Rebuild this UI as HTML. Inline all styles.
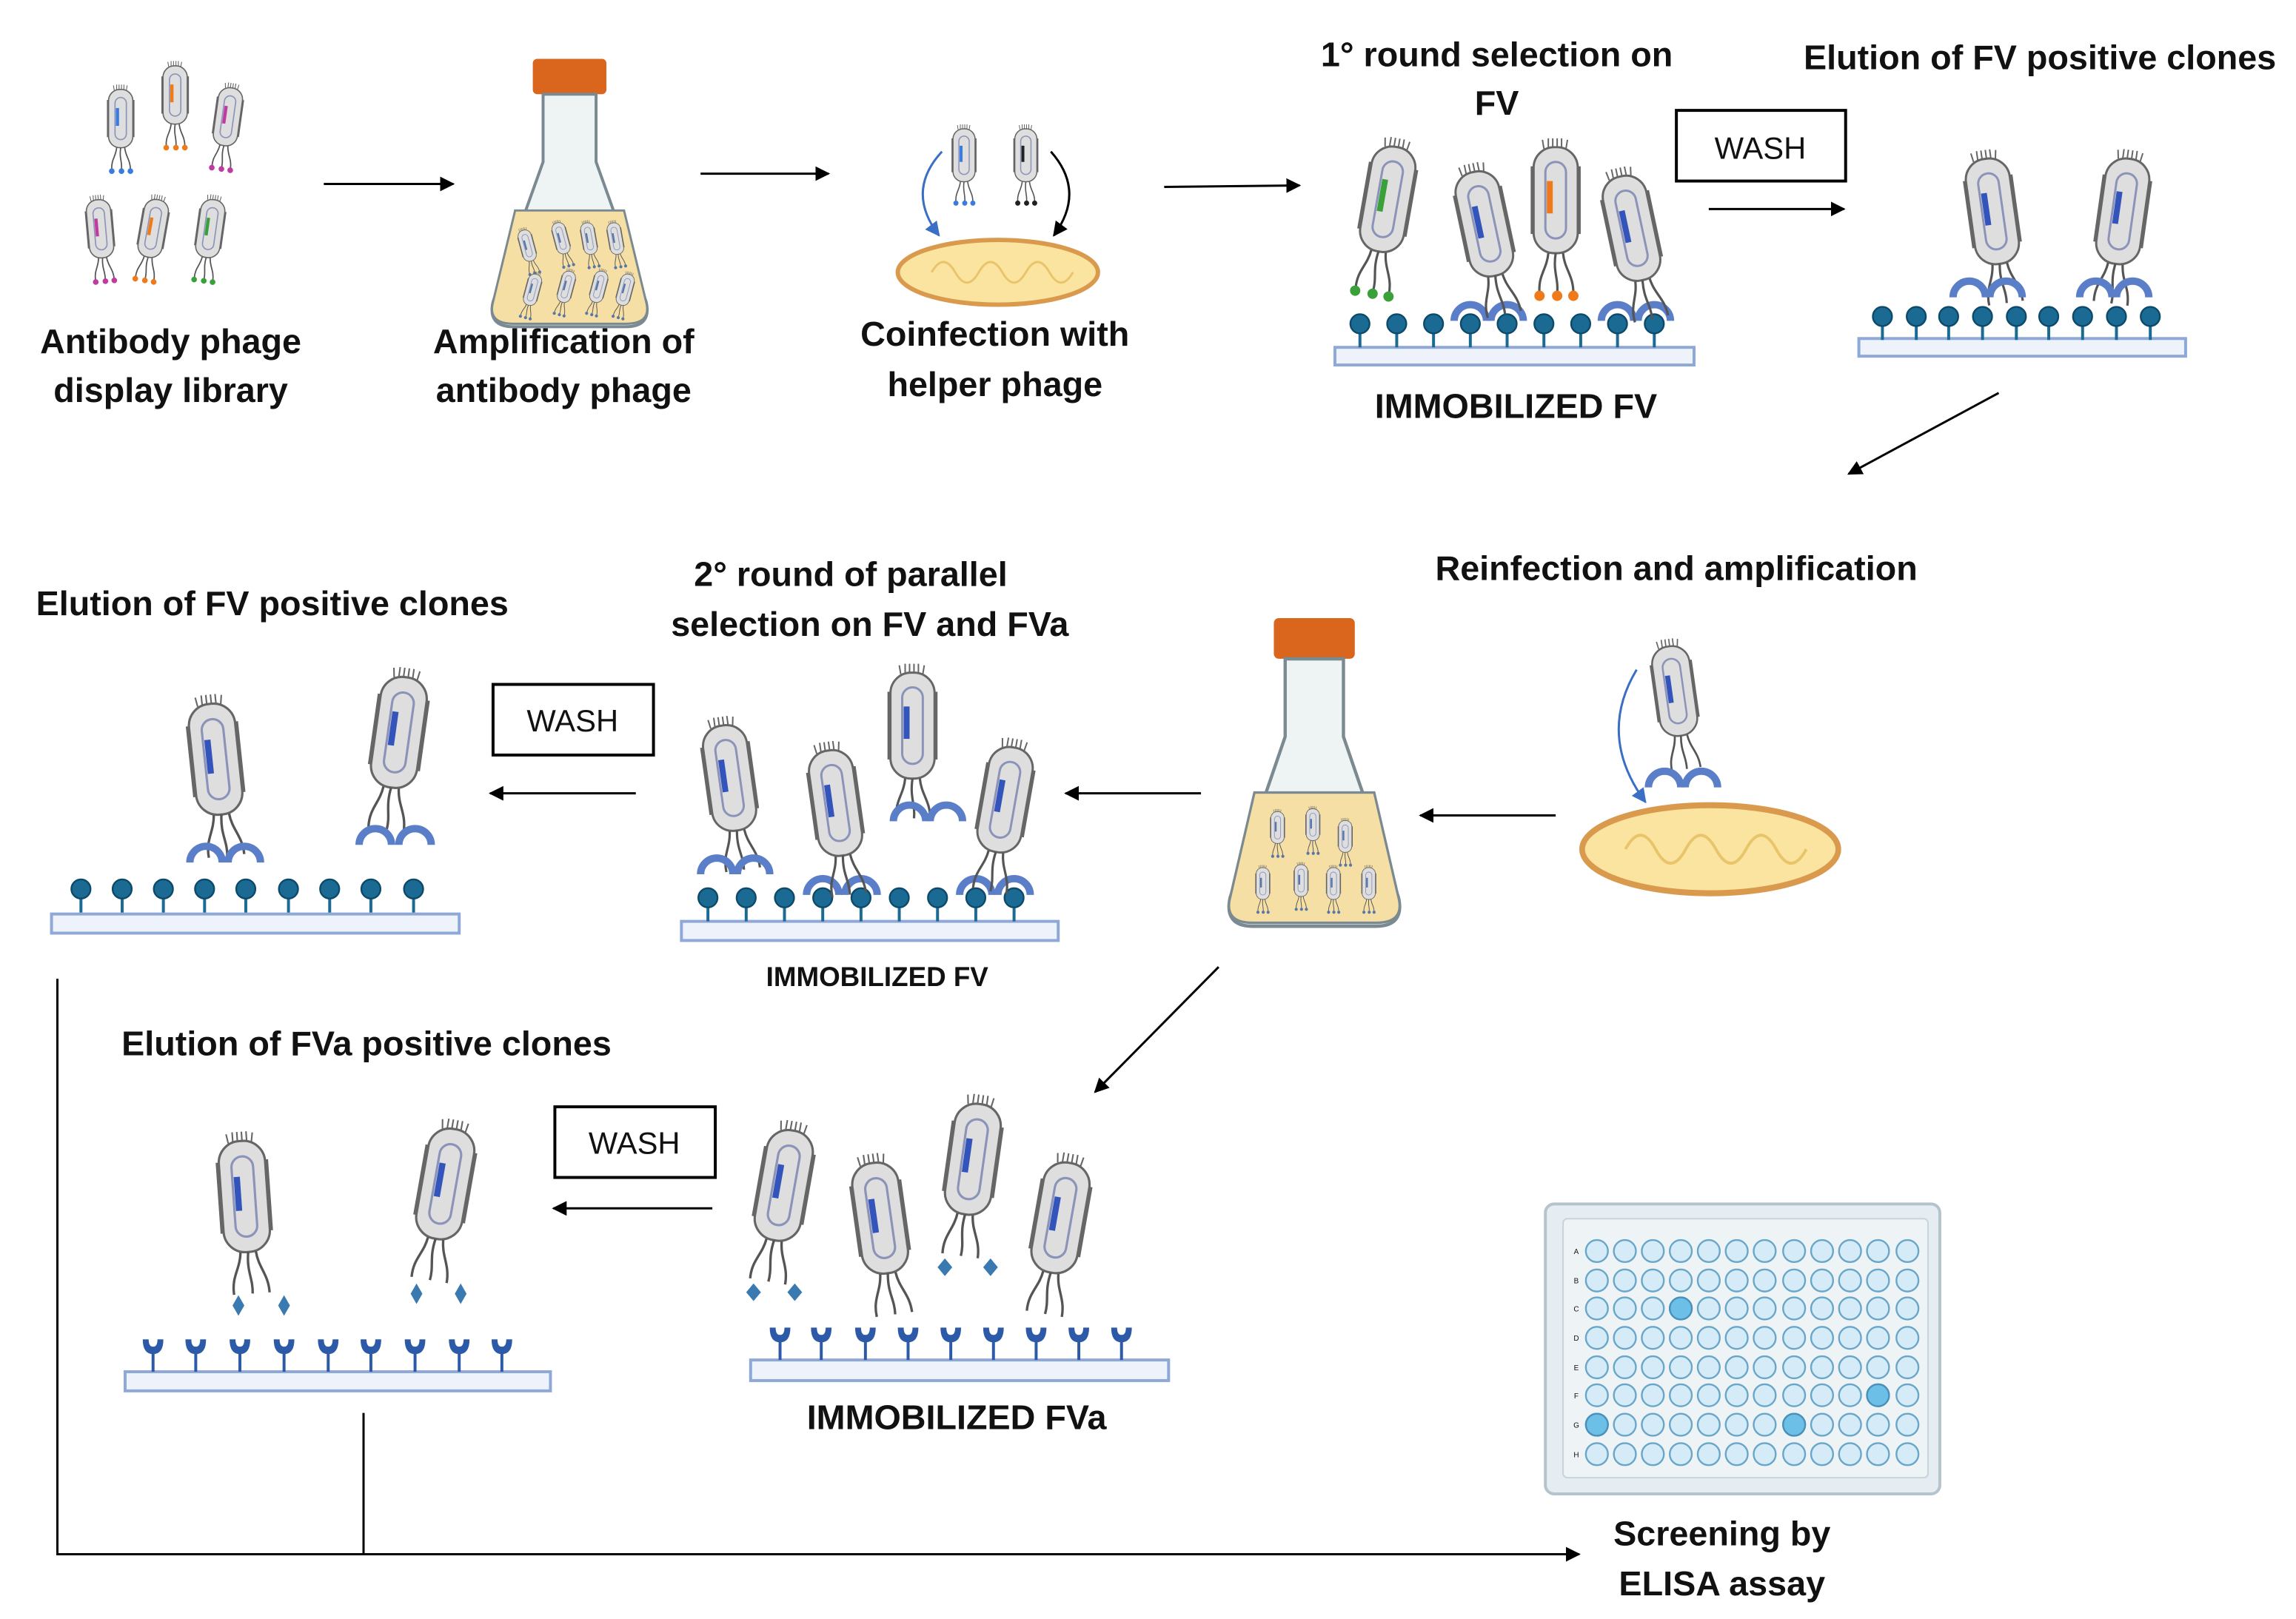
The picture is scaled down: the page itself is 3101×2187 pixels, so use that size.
<!DOCTYPE html>
<html><head><meta charset="utf-8"><style>html,body{margin:0;padding:0;background:#fff}svg{display:block}text{font-family:"Liberation Sans",Arial,sans-serif;font-weight:bold;fill:#111;text-anchor:middle}</style></head><body>
<svg width="3101" height="2187" viewBox="0 0 1560 1100" preserveAspectRatio="none" xmlns="http://www.w3.org/2000/svg">
<defs>
<marker id="ar" markerWidth="10" markerHeight="10" refX="9" refY="5" orient="auto" markerUnits="userSpaceOnUse"><path d="M0,0 L10,5 L0,10 z" fill="#000"/></marker>
<marker id="ab" markerWidth="10" markerHeight="10" refX="9" refY="5" orient="auto" markerUnits="userSpaceOnUse"><path d="M0,0 L10,5 L0,10 z" fill="#3a6fc4"/></marker>
<g id="ph">
<path d="M-8,6 L-9,0 M-5,5 L-5,-1 M-2,5 L-2,-1 M1,5 L1,-1 M4,5 L4,-1 M7,6 L8,0" stroke="#666" stroke-width="1"/>
<rect x="-17" y="18" width="3" height="46" fill="#666"/><rect x="14" y="18" width="3" height="46" fill="#666"/>
<rect x="-15" y="5" width="30" height="72" rx="14" fill="#dedede" stroke="#666" stroke-width="1.5"/>
<rect x="-7" y="15" width="14" height="52" rx="7" fill="none" stroke="#8b93b8" stroke-width="1.5"/>
<rect x="-6" y="28" width="4" height="22" fill="currentColor"/>
<path d="M-5,77 C-6,88 -12,92 -11,104 M0,77 C-2,90 2,94 1,104 M5,77 C6,88 12,92 12,104" stroke="#555" stroke-width="1.6" fill="none"/>
</g>
<g id="phd"><use href="#ph"/><circle cx="-11" cy="106" r="3.5" fill="currentColor"/><circle cx="1" cy="106" r="3.5" fill="currentColor"/><circle cx="12" cy="106" r="3.5" fill="currentColor"/></g>
<g id="lp"><line x1="0" y1="0" x2="0" y2="16" stroke="#1a6a94" stroke-width="2"/><circle cx="0" cy="0" r="6.5" fill="#1a6a94" stroke="#0d4a6a" stroke-width="1.2"/></g>
<g id="bd"><path d="M-11,2 A11,11 0 0 1 11,2" fill="none" stroke="#5a7ec8" stroke-width="5"/></g>
<g id="ya"><line x1="0" y1="0" x2="0" y2="16" stroke="#2c5aa8" stroke-width="2"/><path d="M-7,-6 Q-7,4 0,4 Q7,4 7,-6 L3,-6 Q3,-1 0,-1 Q-3,-1 -3,-6 z" fill="#2c5aa8"/></g>
<g id="fl">
<rect x="-25" y="0" width="50" height="24" rx="3" fill="#d9661c"/>
<path d="M-18,24 L-18,70 L-52,165 Q-56,182 -38,182 L38,182 Q56,182 52,165 L18,70 L18,24 z" fill="#eef4f4" stroke="#7a8a90" stroke-width="2"/>
<path d="M-37,103 L37,103 L52,165 Q56,180 38,180 L-38,180 Q-56,180 -52,165 z" fill="#f6dfa4" stroke="#7a8a90" stroke-width="1.5"/>
</g>
<g id="bac"><ellipse cx="0" cy="0" rx="68" ry="22" fill="#fbe3a0" stroke="#d99a4e" stroke-width="3"/><path d="M-45,0 q8,-14 16,0 q8,14 16,0 q8,-14 16,0 q8,14 16,0 q8,-14 16,0 q8,14 16,0" fill="none" stroke="#e8c46a" stroke-width="1.5"/></g>
<g id="r"><circle cx="1085" cy="0" r="7.5"/><circle cx="1104" cy="0" r="7.5"/><circle cx="1123" cy="0" r="7.5"/><circle cx="1142" cy="0" r="7.5"/><circle cx="1161" cy="0" r="7.5"/><circle cx="1180" cy="0" r="7.5"/><circle cx="1199" cy="0" r="7.5"/><circle cx="1219" cy="0" r="7.5"/><circle cx="1238" cy="0" r="7.5"/><circle cx="1257" cy="0" r="7.5"/><circle cx="1276" cy="0" r="7.5"/><circle cx="1296" cy="0" r="7.5"/></g>
</defs>

<g font-size="23.5">
<text x="116" y="240">Antibody phage</text><text x="116" y="273">display library</text>
<text x="383" y="240">Amplification of</text><text x="383" y="273">antibody phage</text>
<text x="676" y="235">Coinfection with</text><text x="676" y="269">helper phage</text>
<text x="1017" y="45">1° round selection on</text><text x="1017" y="78">FV</text>
<text x="1386" y="47">Elution of FV positive clones</text>
<text x="1030" y="284">IMMOBILIZED FV</text>
<text x="1139" y="394">Reinfection and amplification</text>
<text x="578" y="398">2° round of parallel</text><text x="591" y="432">selection on FV and FVa</text>
<text x="185" y="418">Elution of FV positive clones</text>
<text x="249" y="717">Elution of FVa positive clones</text>
<text x="650" y="971">IMMOBILIZED FVa</text>
<text x="1170" y="1050">Screening by</text><text x="1170" y="1084">ELISA assay</text>
<text x="596" y="670" font-size="18.5">IMMOBILIZED FV</text>
</g>
<g fill="#fff" stroke="#000" stroke-width="2">
<rect x="1139" y="75" width="115" height="48"/><rect x="335" y="465" width="109" height="48"/><rect x="377" y="752" width="109" height="48"/>
</g>
<g font-size="21">
<text x="1196" y="108" style="font-weight:normal">WASH</text><text x="389" y="497" style="font-weight:normal">WASH</text><text x="431" y="784" style="font-weight:normal">WASH</text>
</g>

<g stroke="#000" stroke-width="1.5" fill="none" marker-end="url(#ar)">
<line x1="220" y1="125" x2="308" y2="125"/><line x1="476" y1="118" x2="563" y2="118"/><line x1="791" y1="127" x2="883" y2="126"/>
<line x1="1161" y1="142" x2="1253" y2="142"/><line x1="1358" y1="267" x2="1256" y2="322"/>
<line x1="1057" y1="554" x2="965" y2="554"/><line x1="816" y1="539" x2="724" y2="539"/><line x1="432" y1="539" x2="333" y2="539"/>
<line x1="828" y1="657" x2="744" y2="742"/><line x1="484" y1="821" x2="376" y2="821"/>
<polyline points="39,665 39,1056 1073,1056"/>
</g>
<line x1="247" y1="960" x2="247" y2="1056" stroke="#000" stroke-width="1.5"/>

<g transform="translate(82,58) scale(0.55)" color="#3a7be0"><use href="#phd"/></g>
<g transform="translate(119,42) scale(0.55)" color="#f07a1a"><use href="#phd"/></g>
<g transform="translate(158,57) scale(0.55) rotate(8)" color="#c03aa0"><use href="#phd"/></g>
<g transform="translate(66,133) scale(0.55) rotate(-5)" color="#c03aa0"><use href="#phd"/></g>
<g transform="translate(108,133) scale(0.55) rotate(10)" color="#f07a1a"><use href="#phd"/></g>
<g transform="translate(146,133) scale(0.55) rotate(8)" color="#3aa03a"><use href="#phd"/></g>

<use href="#fl" transform="translate(387,40)"/>
<g color="#5577aa">
<g transform="translate(355,155) scale(0.3) rotate(-15)"><use href="#phd"/></g>
<g transform="translate(378,150) scale(0.3) rotate(-15)"><use href="#phd"/></g>
<g transform="translate(398,150) scale(0.3) rotate(-10)"><use href="#phd"/></g>
<g transform="translate(416,150) scale(0.3) rotate(-10)"><use href="#phd"/></g>
<g transform="translate(365,185) scale(0.3) rotate(15)"><use href="#phd"/></g>
<g transform="translate(388,183) scale(0.3) rotate(15)"><use href="#phd"/></g>
<g transform="translate(410,183) scale(0.3) rotate(15)"><use href="#phd"/></g>
<g transform="translate(428,185) scale(0.3) rotate(15)"><use href="#phd"/></g>
</g>

<g transform="translate(655,85) scale(0.5)" color="#3a7be0"><use href="#phd"/></g>
<g transform="translate(697,85) scale(0.5)" color="#222"><use href="#phd"/></g>
<use href="#bac" transform="translate(678,185)"/>
<path d="M640,103 Q615,130 638,160" fill="none" stroke="#3a6fc4" stroke-width="1.5" marker-end="url(#ab)"/>
<path d="M714,103 Q738,130 716,160" fill="none" stroke="#000" stroke-width="1.5" marker-end="url(#ar)"/>

<rect x="907" y="236" width="244" height="12" fill="#eef3fb" stroke="#8ea8d8" stroke-width="2"/>
<g><use href="#lp" x="924" y="220"/><use href="#lp" x="949" y="220"/><use href="#lp" x="974" y="220"/><use href="#lp" x="999" y="220"/><use href="#lp" x="1024" y="220"/><use href="#lp" x="1049" y="220"/><use href="#lp" x="1074" y="220"/><use href="#lp" x="1099" y="220"/><use href="#lp" x="1124" y="220"/></g>
<use href="#bd" x="999" y="216"/><use href="#bd" x="1024" y="216"/><use href="#bd" x="1099" y="216"/><use href="#bd" x="1124" y="216"/>
<g transform="translate(950,95) rotate(10)" color="#3aa03a"><use href="#phd"/></g>
<g transform="translate(1000,112) rotate(-12)" color="#3355bb"><use href="#ph"/></g>
<g transform="translate(1057,95)" color="#f07a1a"><use href="#phd"/></g>
<g transform="translate(1100,115) rotate(-12)" color="#3355bb"><use href="#ph"/></g>

<rect x="1263" y="230" width="222" height="12" fill="#eef3fb" stroke="#8ea8d8" stroke-width="2"/>
<g><use href="#lp" x="1279" y="215"/><use href="#lp" x="1302" y="215"/><use href="#lp" x="1324" y="215"/><use href="#lp" x="1347" y="215"/><use href="#lp" x="1370" y="215"/><use href="#lp" x="1392" y="215"/><use href="#lp" x="1415" y="215"/><use href="#lp" x="1438" y="215"/><use href="#lp" x="1461" y="215"/></g>
<g transform="translate(1348,103) rotate(-8)" color="#3355bb"><use href="#ph"/></g>
<g transform="translate(1448,103) rotate(8)" color="#3355bb"><use href="#ph"/></g>
<use href="#bd" x="1338" y="200"/><use href="#bd" x="1363" y="200"/><use href="#bd" x="1424" y="200"/><use href="#bd" x="1449" y="200"/>

<g transform="translate(1133,435) rotate(-8) scale(0.85)" color="#3355bb"><use href="#ph"/></g>
<use href="#bd" x="1131" y="533"/><use href="#bd" x="1156" y="533"/>
<g transform="translate(1162,577) scale(1.28,1.36)"><use href="#bac"/></g>
<path d="M1112,455 Q1085,500 1118,545" fill="none" stroke="#3a6fc4" stroke-width="1.5" marker-end="url(#ab)"/>

<use href="#fl" transform="translate(893,420) scale(1.1,1.15)"/>
<g color="#5577aa">
<g transform="translate(868,550) scale(0.3)"><use href="#phd"/></g>
<g transform="translate(892,548) scale(0.3)"><use href="#phd"/></g>
<g transform="translate(914,556) scale(0.3)"><use href="#phd"/></g>
<g transform="translate(858,588) scale(0.3)"><use href="#phd"/></g>
<g transform="translate(884,586) scale(0.3)"><use href="#phd"/></g>
<g transform="translate(906,588) scale(0.3)"><use href="#phd"/></g>
<g transform="translate(930,588) scale(0.3)"><use href="#phd"/></g>
</g>

<rect x="463" y="626" width="256" height="13" fill="#eef3fb" stroke="#8ea8d8" stroke-width="2"/>
<g><use href="#lp" x="481" y="610"/><use href="#lp" x="507" y="610"/><use href="#lp" x="533" y="610"/><use href="#lp" x="559" y="610"/><use href="#lp" x="585" y="610"/><use href="#lp" x="611" y="610"/><use href="#lp" x="637" y="610"/><use href="#lp" x="663" y="610"/><use href="#lp" x="689" y="610"/></g>
<use href="#bd" x="559" y="606"/><use href="#bd" x="585" y="606"/><use href="#bd" x="663" y="606"/><use href="#bd" x="689" y="606"/>
<g transform="translate(490,488) rotate(-8)" color="#3355bb"><use href="#ph"/></g>
<use href="#bd" x="487" y="592"/><use href="#bd" x="512" y="592"/>
<g transform="translate(562,505) rotate(-8)" color="#3355bb"><use href="#ph"/></g>
<g transform="translate(620,452)" color="#3355bb"><use href="#ph"/></g>
<use href="#bd" x="618" y="556"/><use href="#bd" x="643" y="556"/>
<g transform="translate(690,503) rotate(10)" color="#3355bb"><use href="#ph"/></g>

<rect x="35" y="621" width="277" height="13" fill="#eef3fb" stroke="#8ea8d8" stroke-width="2"/>
<g><use href="#lp" x="55" y="604"/><use href="#lp" x="83" y="604"/><use href="#lp" x="111" y="604"/><use href="#lp" x="139" y="604"/><use href="#lp" x="167" y="604"/><use href="#lp" x="196" y="604"/><use href="#lp" x="224" y="604"/><use href="#lp" x="252" y="604"/><use href="#lp" x="281" y="604"/></g>
<g transform="translate(142,473) rotate(-6) scale(1.05)" color="#3355bb"><use href="#ph"/></g>
<use href="#bd" x="140" y="584"/><use href="#bd" x="166" y="584"/>
<g transform="translate(277,455) rotate(8) scale(1.05)" color="#3355bb"><use href="#ph"/></g>
<use href="#bd" x="255" y="572"/><use href="#bd" x="282" y="572"/>

<rect x="510" y="924" width="284" height="14" fill="#eef3fb" stroke="#8ea8d8" stroke-width="2"/>
<g><use href="#ya" x="530" y="908"/><use href="#ya" x="558" y="908"/><use href="#ya" x="588" y="908"/><use href="#ya" x="617" y="908"/><use href="#ya" x="646" y="908"/><use href="#ya" x="675" y="908"/><use href="#ya" x="704" y="908"/><use href="#ya" x="733" y="908"/><use href="#ya" x="762" y="908"/></g>
<g transform="translate(540,763) rotate(10) scale(1.05)" color="#3355bb"><use href="#ph"/></g>
<path d="M512,872 l5,6 -5,6 -5,-6z M540,872 l5,6 -5,6 -5,-6z M642,855 l5,6 -5,6 -5,-6z M673,855 l5,6 -5,6 -5,-6z" fill="#3a7ab0"/>
<g transform="translate(592,785) rotate(-8) scale(1.05)" color="#3355bb"><use href="#ph"/></g>
<g transform="translate(667,745) rotate(8) scale(1.05)" color="#3355bb"><use href="#ph"/></g>
<g transform="translate(728,785) rotate(10) scale(1.05)" color="#3355bb"><use href="#ph"/></g>

<rect x="85" y="932" width="289" height="13" fill="#eef3fb" stroke="#8ea8d8" stroke-width="2"/>
<g><use href="#ya" x="104" y="916"/><use href="#ya" x="133" y="916"/><use href="#ya" x="163" y="916"/><use href="#ya" x="193" y="916"/><use href="#ya" x="223" y="916"/><use href="#ya" x="252" y="916"/><use href="#ya" x="282" y="916"/><use href="#ya" x="312" y="916"/><use href="#ya" x="341" y="916"/></g>
<g transform="translate(163,770) rotate(-4) scale(1.05)" color="#3355bb"><use href="#ph"/></g>
<g transform="translate(310,762) rotate(10) scale(1.05)" color="#3355bb"><use href="#ph"/></g>
<path d="M162,880 l4,7 -4,7 -4,-7z M193,880 l4,7 -4,7 -4,-7z M283,872 l4,7 -4,7 -4,-7z M313,872 l4,7 -4,7 -4,-7z" fill="#3a7ab0"/>

<rect x="1050" y="818" width="268" height="197" rx="6" fill="#e6edf2" stroke="#b5c3cc" stroke-width="2"/>
<rect x="1062" y="828" width="248" height="176" rx="3" fill="#eef3f6" stroke="#c8d3da"/>
<g fill="#d5ecf8" stroke="#6aa6c8" stroke-width="1.2">
<use href="#r" y="850"/><use href="#r" y="870"/><use href="#r" y="889"/><use href="#r" y="909"/><use href="#r" y="929"/><use href="#r" y="948"/><use href="#r" y="968"/><use href="#r" y="988"/>
</g>
<g fill="#6cc0e8" stroke="#4a90b8" stroke-width="1.2">
<circle cx="1142" cy="889" r="7.5"/><circle cx="1276" cy="948" r="7.5"/><circle cx="1085" cy="968" r="7.5"/><circle cx="1219" cy="968" r="7.5"/>
</g>
<g font-size="5">
<text x="1071" y="852" style="font-weight:normal">A</text><text x="1071" y="872" style="font-weight:normal">B</text><text x="1071" y="891" style="font-weight:normal">C</text><text x="1071" y="911" style="font-weight:normal">D</text><text x="1071" y="931" style="font-weight:normal">E</text><text x="1071" y="950" style="font-weight:normal">F</text><text x="1071" y="970" style="font-weight:normal">G</text><text x="1071" y="990" style="font-weight:normal">H</text>
</g>
</svg>
</body></html>
